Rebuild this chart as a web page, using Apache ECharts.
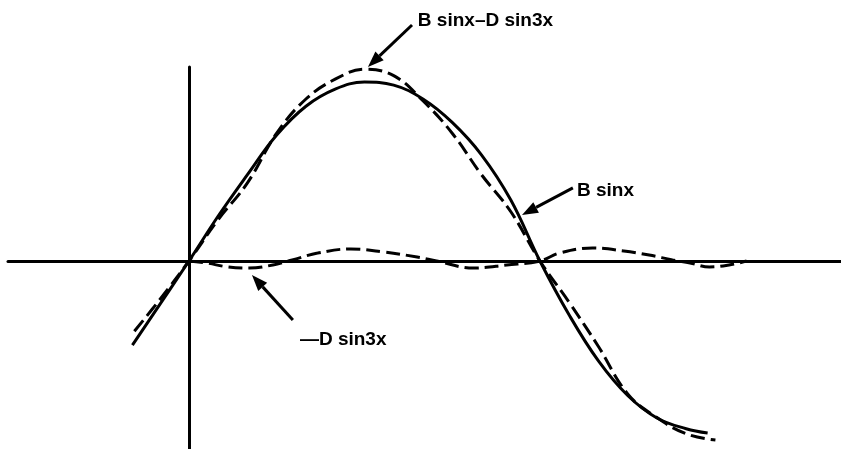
<!DOCTYPE html>
<html>
<head>
<meta charset="utf-8">
<script src="https://cdn.jsdelivr.net/npm/echarts@6/dist/echarts.min.js"></script>
<style>
  html, body { margin: 0; padding: 0; background: #ffffff; }
  #chart { width: 841px; height: 449px; }
</style>
</head>
<body>
<div id="chart"></div>
<script>
// Angle x in degrees, amplitudes relative to B.
const fundamentalX = [-29, 0, 15, 30, 45, 60, 75, 90, 105, 120, 135, 150, 165, 180, 195, 210, 225, 240, 255, 266];
const fundamentalY = [-0.467, 0, 0.25, 0.48, 0.70, 0.86, 0.955, 0.994, 0.977, 0.90, 0.77, 0.59, 0.34, 0, -0.30, -0.555, -0.747, -0.872, -0.932, -0.956];

const combinedX = [-28, -15, 0, 15, 30, 45, 60, 75, 90, 105, 120, 135, 150, 165, 180, 195, 210, 225, 240, 255, 270];
const combinedY = [-0.39, -0.215, 0, 0.23, 0.434, 0.71, 0.90, 1.01, 1.065, 1.03, 0.89, 0.71, 0.48, 0.275, 0, -0.23, -0.475, -0.738, -0.87, -0.96, -0.995];

const thirdX = [0, 9, 20, 31, 43, 53, 66, 83, 100, 117, 127, 146, 163, 180, 190, 207, 223, 236, 248, 257, 267, 277, 286];
const thirdY = [0, -0.011, -0.033, -0.039, -0.022, 0.006, 0.044, 0.067, 0.05, 0.022, 0, -0.039, -0.022, 0, 0.044, 0.072, 0.056, 0.033, 0.006, -0.011, -0.033, -0.022, 0];

const curveNames = ['B sinx', 'B sinx\u2013D sin3x', '\u2014D sin3x'];

const pairs = (xs, ys) => xs.map((x, i) => [x, ys[i]]);

const chart = echarts.init(document.getElementById('chart'), null, { renderer: 'canvas' });

const axisLine = { show: true, onZero: true, lineStyle: { color: '#000', width: 3 } };

chart.setOption({
  animation: false,
  backgroundColor: '#ffffff',
  grid: { left: 8, right: 0, top: 67, bottom: 0, containLabel: false },
  xAxis: {
    type: 'value', min: -92.8, max: 334.4,
    axisLine: axisLine, axisTick: { show: false }, axisLabel: { show: false }, splitLine: { show: false }
  },
  yAxis: {
    type: 'value', min: -1.0444, max: 1.0778,
    axisLine: axisLine, axisTick: { show: false }, axisLabel: { show: false }, splitLine: { show: false }
  },
  series: [
    {
      name: curveNames[0], type: 'line', data: pairs(fundamentalX, fundamentalY),
      smooth: 0.4, showSymbol: false, lineStyle: { color: '#000', width: 3 }
    },
    {
      name: curveNames[1], type: 'line', data: pairs(combinedX, combinedY),
      smooth: 0.4, showSymbol: false, lineStyle: { color: '#000', width: 3, type: [14, 6] }
    },
    {
      name: curveNames[2], type: 'line', data: pairs(thirdX, thirdY),
      smooth: 0.4, showSymbol: false, lineStyle: { color: '#000', width: 3, type: [14, 6] }
    }
  ]
});

// Callout arrows and their captions, anchored in data coordinates.
const callouts = [
  { text: curveNames[1], tail: [114.4, 1.311], tip: [91.8, 1.078], at: [117.4, 1.333] },
  { text: curveNames[0], tail: [196.9, 0.406], tip: [170.8, 0.256], at: [199.0, 0.389] },
  { text: curveNames[2], tail: [53.3, -0.328], tip: [32.3, -0.078], at: [56.9, -0.44] }
];

const toPx = p => chart.convertToPixel({ gridIndex: 0 }, p);
const elements = [];
callouts.forEach(c => {
  const a = toPx(c.tail), b = toPx(c.tip);
  const dx = b[0] - a[0], dy = b[1] - a[1];
  const len = Math.hypot(dx, dy), ux = dx / len, uy = dy / len;
  const headLen = 16, headHalf = 6;
  const base = [b[0] - ux * headLen, b[1] - uy * headLen];
  elements.push({
    type: 'line',
    shape: { x1: a[0], y1: a[1], x2: base[0], y2: base[1] },
    style: { stroke: '#000', lineWidth: 3 }
  });
  elements.push({
    type: 'polygon',
    shape: { points: [b, [base[0] - uy * headHalf, base[1] + ux * headHalf], [base[0] + uy * headHalf, base[1] - ux * headHalf]] },
    style: { fill: '#000' }
  });
  const t = toPx(c.at);
  elements.push({
    type: 'text', x: t[0], y: t[1],
    style: { text: c.text, fill: '#000', font: 'bold 19px "Liberation Sans", Arial, sans-serif', textVerticalAlign: 'middle', textAlign: 'left' }
  });
});
chart.setOption({ graphic: elements });
</script>
</body>
</html>
